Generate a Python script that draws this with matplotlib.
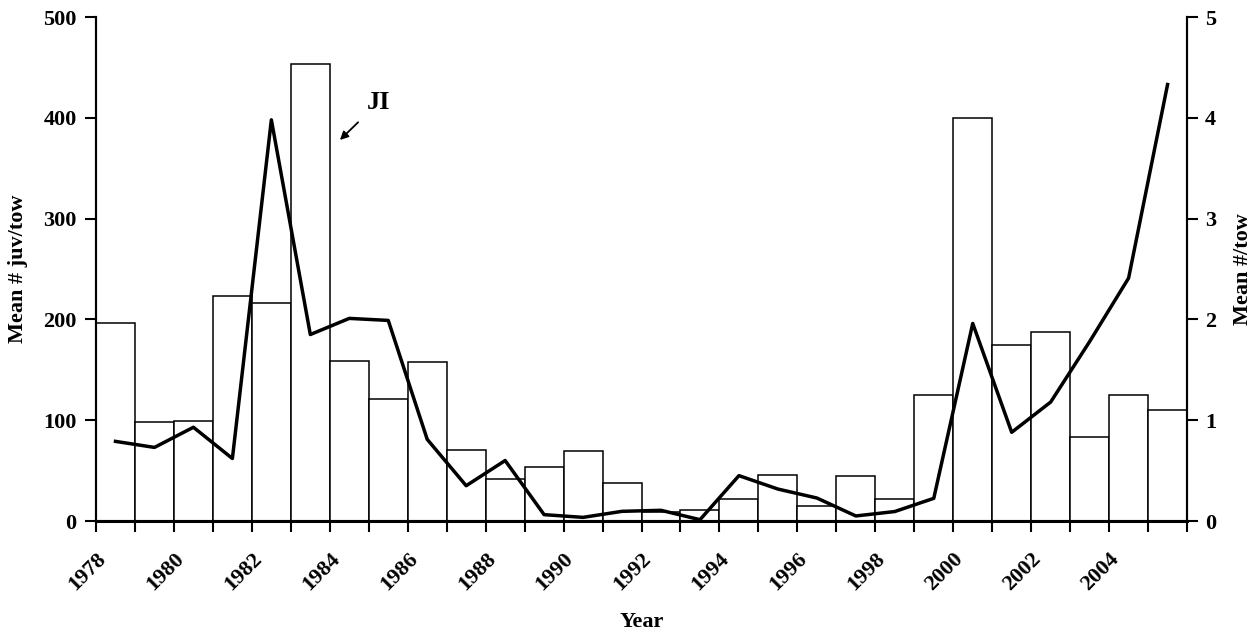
import numpy as np
import matplotlib
matplotlib.use("Agg")
import matplotlib.pyplot as plt

plt.rcParams["font.family"] = ["Liberation Serif", "DejaVu Serif"]
plt.rcParams["font.weight"] = "bold"

years = list(range(1978, 2006))
# bars: mean juveniles per tow (left axis)
juv_per_tow = [196, 98, 99, 223, 216, 453, 159, 121, 158, 70,
               42, 54, 69, 38, 9, 11, 22, 46, 15, 45,
               22, 125, 400, 175, 188, 83, 125, 110]
# line: JI, mean number per tow (right axis)
ji_per_tow = [0.79, 0.73, 0.93, 0.62, 3.98, 1.85, 2.01, 1.99, 0.81, 0.35,
              0.60, 0.063, 0.036, 0.096, 0.106, 0.013, 0.45, 0.317, 0.228, 0.05,
              0.094, 0.225, 1.96, 0.88, 1.18, 1.78, 2.41, 4.33]

fs = 16

fig = plt.figure(figsize=(12.6, 6.37), dpi=100)
ax = fig.add_axes([0.0762, 0.1821, 0.8659, 0.7912])
ax2 = ax.twinx()

x = np.arange(len(years))
ax.bar(x, juv_per_tow, width=1.0, color="white", edgecolor="black",
       linewidth=1.1, zorder=2)
ax2.plot(x, ji_per_tow, color="black", linewidth=2.5, zorder=3)

ax.set_xlim(-0.5, len(years) - 0.5)
ax.set_ylim(0, 500)
ax2.set_ylim(0, 5)
ax.set_yticks(np.arange(0, 501, 100))
ax2.set_yticks(np.arange(0, 6, 1))

# ticks between categories, labels every other year at the left edge
tick_labels = [str(y) if i % 2 == 0 else "" for i, y in enumerate(years)] + [""]
ax.set_xticks(np.arange(len(years) + 1) - 0.5)
ax.set_xticklabels(tick_labels, rotation=45, ha="right",
                   rotation_mode="anchor", fontsize=fs, fontweight="bold")
ax.tick_params(axis="x", length=8, width=1.5, direction="out", pad=12)
ax.tick_params(axis="y", length=8, width=1.5, direction="out", pad=6,
               labelsize=fs)
ax2.tick_params(axis="y", length=8, width=1.5, direction="out", pad=5,
                labelsize=fs)
for lab in ax.get_yticklabels() + ax2.get_yticklabels():
    lab.set_fontweight("bold")

for a in (ax, ax2):
    a.spines["top"].set_visible(False)
    for s in ("left", "right", "bottom"):
        a.spines[s].set_linewidth(1.5)
ax.spines["bottom"].set_linewidth(2.2)

ax.set_xlabel("Year", fontsize=fs, fontweight="bold", labelpad=13)
ax.set_ylabel("Mean # juv/tow", fontsize=fs, fontweight="bold", labelpad=11)
ax2.set_ylabel("Mean #/tow", fontsize=fs, fontweight="bold", labelpad=12)

ax2.annotate("JI", xy=(5.76, 3.78), xytext=(6.45, 4.04),
             fontsize=19, fontweight="bold", ha="left", va="bottom",
             arrowprops=dict(arrowstyle="-|>", color="black", lw=1.3,
                             mutation_scale=12, shrinkA=6, shrinkB=0))

fig.savefig("out.png", dpi=100)
